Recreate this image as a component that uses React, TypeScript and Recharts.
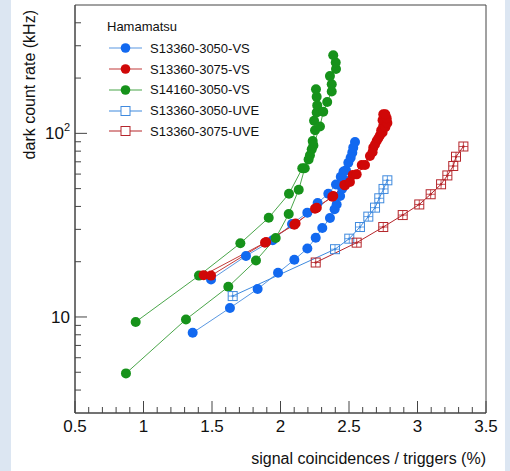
import React from "react";
import { LineChart, Line, XAxis, YAxis, ReferenceArea } from "recharts";

const FONT = '"Liberation Sans", Arial, Helvetica, sans-serif';
const AXIS = "#444";

// x ticks (minor + major), y ticks on log axis
const xTicks = [
  0.5, 0.6, 0.7, 0.8, 0.9, 1, 1.1, 1.2, 1.3, 1.4, 1.5, 1.6, 1.7, 1.8, 1.9, 2,
  2.1, 2.2, 2.3, 2.4, 2.5, 2.6, 2.7, 2.8, 2.9, 3, 3.1, 3.2, 3.3, 3.4, 3.5,
];
const xMajor = [0.5, 1, 1.5, 2, 2.5, 3, 3.5];
const yTicks = [4, 5, 6, 7, 8, 9, 10, 20, 30, 40, 50, 60, 70, 80, 90, 100, 200, 300, 400];
const yMajor = [10, 100];

// S13360-3050-VS, two scans
const blueVsA = [
  { x: 1.359, y: 8.2 }, { x: 1.631, y: 11.2 }, { x: 1.833, y: 14.2 },
  { x: 1.982, y: 17.4 }, { x: 2.101, y: 20.5 }, { x: 2.196, y: 23.6 },
  { x: 2.257, y: 27 }, { x: 2.305, y: 30.5 }, { x: 2.361, y: 34.6 },
  { x: 2.395, y: 38.6 }, { x: 2.41, y: 41 }, { x: 2.435, y: 45.6 },
  { x: 2.45, y: 50 }, { x: 2.464, y: 56 }, { x: 2.478, y: 63 },
  { x: 2.495, y: 69.2 }, { x: 2.512, y: 73.7 }, { x: 2.524, y: 78.5 },
  { x: 2.531, y: 83.6 }, { x: 2.544, y: 89.7 },
];
const blueVsB = [
  { x: 1.493, y: 16 }, { x: 1.748, y: 21.5 }, { x: 1.943, y: 26.2 },
  { x: 2.084, y: 32.1 }, { x: 2.196, y: 37 }, { x: 2.271, y: 41.8 },
  { x: 2.349, y: 46.9 }, { x: 2.405, y: 52.7 }, { x: 2.44, y: 58 },
  { x: 2.46, y: 62 },
];

// S13360-3075-VS, two scans
const redVsA = [
  { x: 1.439, y: 16.9 }, { x: 1.887, y: 25.4 }, { x: 2.101, y: 31.8 },
  { x: 2.252, y: 38.9 }, { x: 2.378, y: 45.2 }, { x: 2.466, y: 52.4 },
  { x: 2.527, y: 59.3 }, { x: 2.593, y: 67.3 }, { x: 2.653, y: 75.3 },
  { x: 2.677, y: 83.6 }, { x: 2.702, y: 90.8 }, { x: 2.726, y: 97.5 },
  { x: 2.735, y: 104 }, { x: 2.75, y: 110 }, { x: 2.745, y: 118 },
  { x: 2.75, y: 127 },
];
const redVsB = [
  { x: 1.493, y: 16.8 }, { x: 1.895, y: 25.6 }, { x: 2.11, y: 32.3 },
  { x: 2.265, y: 39.3 }, { x: 2.385, y: 45.6 }, { x: 2.471, y: 52.1 },
  { x: 2.507, y: 54.3 }, { x: 2.556, y: 59.8 }, { x: 2.617, y: 67.3 },
  { x: 2.672, y: 79 }, { x: 2.69, y: 87 }, { x: 2.714, y: 94 },
  { x: 2.745, y: 101 }, { x: 2.765, y: 108 }, { x: 2.78, y: 114 },
  { x: 2.775, y: 121 }, { x: 2.765, y: 127 },
];

// S14160-3050-VS, two scans
const greenVsA = [
  { x: 0.943, y: 9.4 }, { x: 1.405, y: 16.8 }, { x: 1.707, y: 25.2 },
  { x: 1.914, y: 34.7 }, { x: 2.062, y: 46.9 }, { x: 2.159, y: 64.5 },
  { x: 2.205, y: 72 }, { x: 2.228, y: 81.8 }, { x: 2.235, y: 90.8 },
  { x: 2.252, y: 104 }, { x: 2.245, y: 117 }, { x: 2.264, y: 130 },
  { x: 2.268, y: 142 }, { x: 2.264, y: 158 }, { x: 2.259, y: 174 },
];
const greenVsB = [
  { x: 0.872, y: 4.93 }, { x: 1.31, y: 9.7 }, { x: 1.619, y: 14.6 },
  { x: 1.821, y: 20.3 }, { x: 1.965, y: 26.9 }, { x: 2.06, y: 36.4 },
  { x: 2.133, y: 49.3 }, { x: 2.177, y: 64.5 }, { x: 2.215, y: 76 },
  { x: 2.24, y: 86 }, { x: 2.288, y: 109 }, { x: 2.312, y: 131 },
  { x: 2.341, y: 148 }, { x: 2.374, y: 169 }, { x: 2.374, y: 185 },
  { x: 2.361, y: 205 }, { x: 2.405, y: 224 }, { x: 2.403, y: 243 },
  { x: 2.385, y: 266 },
];

// S13360-3050-UVE
const blueUve = [
  { x: 1.651, y: 13 }, { x: 2.398, y: 23.4 }, { x: 2.502, y: 26.7 },
  { x: 2.58, y: 30.9 }, { x: 2.641, y: 35.2 }, { x: 2.69, y: 39.4 },
  { x: 2.721, y: 44.3 }, { x: 2.752, y: 49.8 }, { x: 2.78, y: 55.5 },
];

// S13360-3075-UVE
const redUve = [
  { x: 2.257, y: 19.8 }, { x: 2.556, y: 25.4 }, { x: 2.75, y: 30.9 },
  { x: 2.892, y: 35.9 }, { x: 3.013, y: 41 }, { x: 3.096, y: 46.6 },
  { x: 3.172, y: 52.8 }, { x: 3.218, y: 59 }, { x: 3.261, y: 66.4 },
  { x: 3.281, y: 74.6 }, { x: 3.335, y: 84.8 },
];

const BLUE = { marker: "#1269f0", line: "#5a98e2" };
const RED = { marker: "#d00808", line: "#c23b3b" };
const GREEN = { marker: "#16921a", line: "#4aa64a" };
const UVE_BLUE = { marker: "#3f8ade", line: "#3f8ade" };
const UVE_RED = { marker: "#b5262b", line: "#b5262b" };

const series = [
  { id: "bA", data: blueVsA, c: BLUE, shape: "circle" },
  { id: "bB", data: blueVsB, c: BLUE, shape: "circle" },
  { id: "gA", data: greenVsA, c: GREEN, shape: "circle" },
  { id: "gB", data: greenVsB, c: GREEN, shape: "circle" },
  { id: "rA", data: redVsA, c: RED, shape: "circle" },
  { id: "rB", data: redVsB, c: RED, shape: "circle" },
  { id: "bU", data: blueUve, c: UVE_BLUE, shape: "square" },
  { id: "rU", data: redUve, c: UVE_RED, shape: "square" },
];

const legendItems = [
  { name: "S13360-3050-VS", c: BLUE, shape: "circle" },
  { name: "S13360-3075-VS", c: RED, shape: "circle" },
  { name: "S14160-3050-VS", c: GREEN, shape: "circle" },
  { name: "S13360-3050-UVE", c: UVE_BLUE, shape: "square" },
  { name: "S13360-3075-UVE", c: UVE_RED, shape: "square" },
];

function makeDot(shape: string, color: string, id: string) {
  return (p: any) => {
    const { cx, cy, index } = p;
    if (cx == null || cy == null) return <g key={`${id}-${index}`} />;
    if (shape === "circle") {
      return <circle key={`${id}-${index}`} cx={cx} cy={cy} r={5} fill={color} />;
    }
    return (
      <g key={`${id}-${index}`}>
        <rect x={cx - 4.5} y={cy - 4.5} width={9} height={9} fill="none" stroke={color} strokeWidth={1} />
        <line x1={cx - 4.5} x2={cx + 4.5} y1={cy} y2={cy} stroke={color} strokeWidth={0.8} />
        <line x1={cx} x2={cx} y1={cy - 4.5} y2={cy + 4.5} stroke={color} strokeWidth={0.8} />
        <circle cx={cx} cy={cy} r={1.2} fill={color} />
      </g>
    );
  };
}

const XTick = (props: any) => {
  const { x, y, payload } = props;
  const major = xMajor.includes(payload.value);
  return (
    <g>
      <line x1={x} x2={x} y1={y} y2={y - (major ? 12 : 6)} stroke={AXIS} strokeWidth={1} />
      {major && (
        <text x={x} y={y + 19} textAnchor="middle" fontSize={17} fontFamily={FONT} fill="#111">
          {String(payload.value)}
        </text>
      )}
    </g>
  );
};

const YTick = (props: any) => {
  const { x, y, payload } = props;
  const v = payload.value;
  const major = yMajor.includes(v);
  return (
    <g>
      <line x1={x} x2={x + (major ? 12 : 6)} y1={y} y2={y} stroke={AXIS} strokeWidth={1} />
      {v === 10 && (
        <text x={x - 5} y={y + 6} textAnchor="end" fontSize={17} fontFamily={FONT} fill="#111">
          10
        </text>
      )}
      {v === 100 && (
        <text x={x - 5} y={y + 6} textAnchor="end" fontSize={17} fontFamily={FONT} fill="#111">
          10<tspan fontSize={11} dy={-8}>2</tspan>
        </text>
      )}
    </g>
  );
};

function LegendIcon({ shape, c }: { shape: string; c: { marker: string; line: string } }) {
  return (
    <svg width={40} height={14} style={{ display: "block" }}>
      <line x1={2} x2={35} y1={7} y2={7} stroke={c.line} strokeWidth={1.2} />
      {shape === "circle" ? (
        <circle cx={18.5} cy={7} r={4.8} fill={c.marker} />
      ) : (
        <rect x={14} y={2.5} width={9} height={9} fill="white" stroke={c.marker} strokeWidth={1} />
      )}
    </svg>
  );
}

export default function App() {
  return (
    <div
      style={{
        position: "absolute",
        left: 0,
        top: 0,
        width: 510,
        height: 471,
        background: "#dce6f2",
        fontFamily: FONT,
      }}
    >
      <div style={{ position: "absolute", left: 11, top: 0, width: 494, height: 471, background: "#fff" }} />
      <div style={{ position: "absolute", left: 0, top: 0 }}>
        <LineChart width={510} height={471} margin={{ top: 5, right: 24, bottom: 8, left: 15 }}>
          <XAxis
            type="number"
            dataKey="x"
            domain={[0.5, 3.5]}
            ticks={xTicks}
            interval={0}
            tickSize={0}
            tickMargin={0}
            tickLine={false}
            axisLine={{ stroke: AXIS }}
            tick={<XTick />}
            height={50}
            allowDataOverflow
          />
          <YAxis
            type="number"
            dataKey="y"
            scale="log"
            domain={[3, 500]}
            ticks={yTicks}
            interval={0}
            tickSize={0}
            tickMargin={0}
            tickLine={false}
            axisLine={{ stroke: AXIS }}
            tick={<YTick />}
            width={60}
            allowDataOverflow
          />
          <ReferenceArea x1={0.5} x2={3.5} y1={3} y2={500} fill="none" stroke={AXIS} strokeWidth={1} />
          {series.map((s) => (
            <Line
              key={s.id}
              data={s.data}
              dataKey="y"
              type="linear"
              stroke={s.c.line}
              strokeWidth={1}
              dot={makeDot(s.shape, s.c.marker, s.id)}
              activeDot={false}
              isAnimationActive={false}
            />
          ))}
        </LineChart>
      </div>
      <svg width={510} height={471} style={{ position: "absolute", left: 0, top: 0, pointerEvents: "none" }}>
        <text
          transform="translate(35,10) rotate(-90)"
          textAnchor="end"
          fontSize={16}
          fontFamily={FONT}
          fill="#111"
        >
          dark count rate (kHz)
        </text>
        <text x={486} y={464} textAnchor="end" fontSize={16} fontFamily={FONT} fill="#111">
          signal coincidences / triggers (%)
        </text>
      </svg>
      <div style={{ position: "absolute", left: 107, top: 18, fontSize: 13, color: "#111" }}>
        <div style={{ height: 20, lineHeight: "18px" }}>Hamamatsu</div>
        {legendItems.map((it) => (
          <div key={it.name} style={{ display: "flex", alignItems: "center", height: 20.75 }}>
            <LegendIcon shape={it.shape} c={it.c} />
            <span style={{ marginLeft: 3 }}>{it.name}</span>
          </div>
        ))}
      </div>
    </div>
  );
}
